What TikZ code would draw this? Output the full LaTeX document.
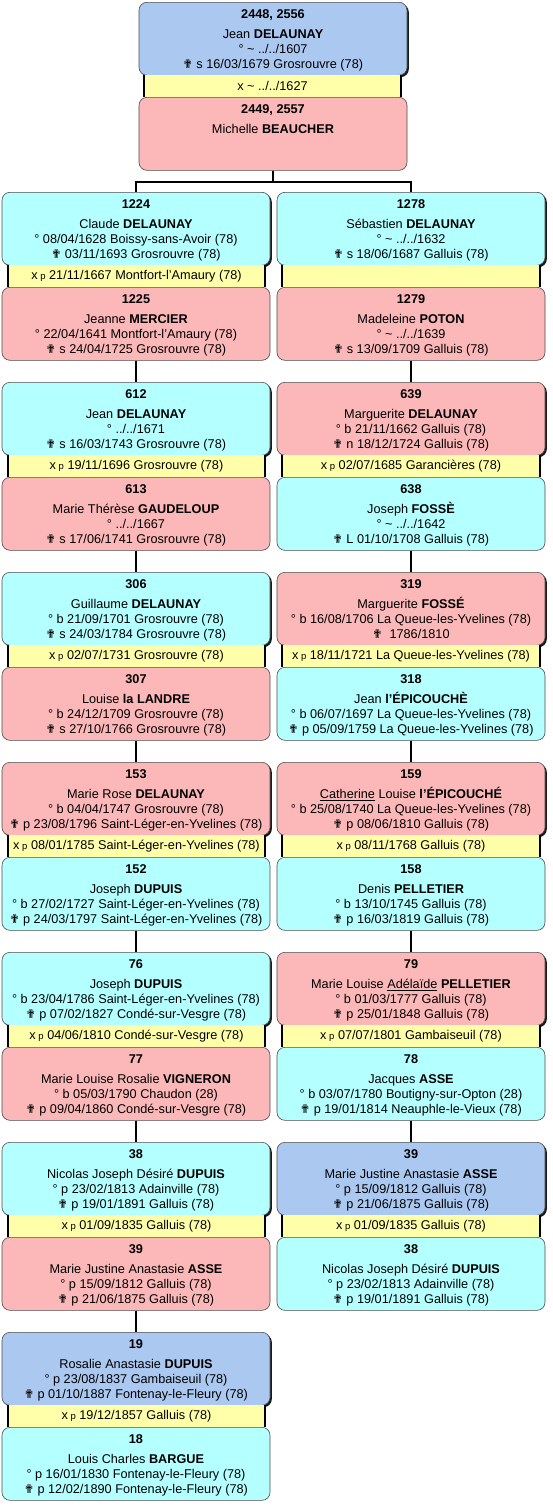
\documentclass[tikz,border=0pt]{standalone}
\usepackage{fontspec}
\setmainfont{Liberation Sans}
\newfontfamily\dvfont{DejaVu Sans}
\usetikzlibrary{shadows}
\definecolor{cblue}{RGB}{170,200,240}
\definecolor{ccyan}{RGB}{180,255,255}
\definecolor{cpink}{RGB}{252,184,184}
\definecolor{cyel}{RGB}{255,255,170}
\newcommand\cx{{\dvfont\fontsize{12}{12}\selectfont ✟}}
\newcommand\mx{x{\fontsize{9.5}{10}\selectfont\ p}}
\newcommand\tl{\textasciitilde}
\tikzset{
  pbox/.style={draw=black!70, line width=0.6pt, rounded corners=8pt,
    minimum width=268pt, minimum height=73pt, inner sep=0pt, anchor=north},
  shad/.style={drop shadow={shadow xshift=1.8pt, shadow yshift=-1.8pt, opacity=1, fill=black!90}},
  noshad/.style={},
  ptext/.style={align=center, inner sep=0pt, anchor=north,
    font=\fontsize{12.7}{15}\selectfont},
  mbarbox/.style={fill=cyel, inner sep=0pt, minimum width=257pt, minimum height=22pt,
    font=\fontsize{12.7}{15}\selectfont},
  conn/.style={line width=2pt, black}
}
\newcommand\pers[6]{%
  \node[pbox,#5,fill=#4] (#1) at (#2,#3) {};
  \node[ptext] (#1t) at ({#2},{#3+7.6}) {#6};
}
\newcommand\mbar[4]{%
  \node[mbarbox] (#1) at ({#2},{#3+11}) {#4};
  \draw[line width=2pt] (#1.north west) -- (#1.south west) (#1.north east) -- (#1.south east);
}
\begin{document}
\begin{tikzpicture}[x=1pt,y=-1pt]
\fill[white] (0,0) rectangle (552,1507);
\useasboundingbox (0,0) rectangle (552,1507);
% top couple
\pers{ta}{273}{2}{cblue}{shad}{\textbf{2448, 2556}\\[5pt] Jean \textbf{DELAUNAY}\\ ° \tl\ ../../1607\\ \cx\ s 16/03/1679 Grosrouvre (78)}
\mbar{tm}{272.5}{75}{x \tl\ ../../1627}
\pers{tb}{273}{97}{cpink}{noshad}{\textbf{2449, 2557}\\[5pt] Michelle \textbf{BEAUCHER}}
% row 1
\pers{la1}{136}{192}{ccyan}{shad}{\textbf{1224}\\[5pt] Claude \textbf{DELAUNAY}\\ ° 08/04/1628 Boissy-sans-Avoir (78)\\ \cx\ 03/11/1693 Grosrouvre (78)}
\mbar{lm1}{136.5}{265}{\mx\ 21/11/1667 Montfort-l'Amaury (78)}
\pers{lb1}{136}{287}{cpink}{noshad}{\textbf{1225}\\[5pt] Jeanne \textbf{MERCIER}\\ ° 22/04/1641 Montfort-l'Amaury (78)\\ \cx\ s 24/04/1725 Grosrouvre (78)}
\pers{ra1}{411}{192}{ccyan}{shad}{\textbf{1278}\\[5pt] Sébastien \textbf{DELAUNAY}\\ ° \tl\ ../../1632\\ \cx\ s 18/06/1687 Galluis (78)}
\mbar{rm1}{411}{265}{}
\pers{rb1}{411}{287}{cpink}{noshad}{\textbf{1279}\\[5pt] Madeleine \textbf{POTON}\\ ° \tl\ ../../1639\\ \cx\ s 13/09/1709 Galluis (78)}
% row 2
\pers{la2}{136}{382}{ccyan}{shad}{\textbf{612}\\[5pt] Jean \textbf{DELAUNAY}\\ ° ../../1671\\ \cx\ s 16/03/1743 Grosrouvre (78)}
\mbar{lm2}{136.5}{455}{\mx\ 19/11/1696 Grosrouvre (78)}
\pers{lb2}{136}{477}{cpink}{noshad}{\textbf{613}\\[5pt] Marie Thérèse \textbf{GAUDELOUP}\\ ° ../../1667\\ \cx\ s 17/06/1741 Grosrouvre (78)}
\pers{ra2}{411}{382}{cpink}{shad}{\textbf{639}\\[5pt] Marguerite \textbf{DELAUNAY}\\ ° b 21/11/1662 Galluis (78)\\ \cx\ n 18/12/1724 Galluis (78)}
\mbar{rm2}{411}{455}{\mx\ 02/07/1685 Garancières (78)}
\pers{rb2}{411}{477}{ccyan}{noshad}{\textbf{638}\\[5pt] Joseph \textbf{FOSSÈ}\\ ° \tl\ ../../1642\\ \cx\ L 01/10/1708 Galluis (78)}
% row 3
\pers{la3}{136}{572}{ccyan}{shad}{\textbf{306}\\[5pt] Guillaume \textbf{DELAUNAY}\\ ° b 21/09/1701 Grosrouvre (78)\\ \cx\ s 24/03/1784 Grosrouvre (78)}
\mbar{lm3}{136.5}{645}{\mx\ 02/07/1731 Grosrouvre (78)}
\pers{lb3}{136}{667}{cpink}{noshad}{\textbf{307}\\[5pt] Louise \textbf{la LANDRE}\\ ° b 24/12/1709 Grosrouvre (78)\\ \cx\ s 27/10/1766 Grosrouvre (78)}
\pers{ra3}{411}{572}{cpink}{shad}{\textbf{319}\\[5pt] Marguerite \textbf{FOSSÉ}\\ ° b 16/08/1706 La Queue-les-Yvelines (78)\\ \cx\ \ 1786/1810}
\mbar{rm3}{411}{645}{\mx\ 18/11/1721 La Queue-les-Yvelines (78)}
\pers{rb3}{411}{667}{ccyan}{noshad}{\textbf{318}\\[5pt] Jean \textbf{l'ÉPICOUCHÈ}\\ ° b 06/07/1697 La Queue-les-Yvelines (78)\\ \cx\ p 05/09/1759 La Queue-les-Yvelines (78)}
% row 4
\pers{la4}{136}{762}{cpink}{shad}{\textbf{153}\\[5pt] Marie Rose \textbf{DELAUNAY}\\ ° b 04/04/1747 Grosrouvre (78)\\ \cx\ p 23/08/1796 Saint-Léger-en-Yvelines (78)}
\mbar{lm4}{136.5}{835}{\mx\ 08/01/1785 Saint-Léger-en-Yvelines (78)}
\pers{lb4}{136}{857}{ccyan}{noshad}{\textbf{152}\\[5pt] Joseph \textbf{DUPUIS}\\ ° b 27/02/1727 Saint-Léger-en-Yvelines (78)\\ \cx\ p 24/03/1797 Saint-Léger-en-Yvelines (78)}
\pers{ra4}{411}{762}{cpink}{shad}{\textbf{159}\\[5pt] \underline{Catherine} Louise \textbf{l'ÉPICOUCHÉ}\\ ° b 25/08/1740 La Queue-les-Yvelines (78)\\ \cx\ p 08/06/1810 Galluis (78)}
\mbar{rm4}{411}{835}{\mx\ 08/11/1768 Galluis (78)}
\pers{rb4}{411}{857}{ccyan}{noshad}{\textbf{158}\\[5pt] Denis \textbf{PELLETIER}\\ ° b 13/10/1745 Galluis (78)\\ \cx\ p 16/03/1819 Galluis (78)}
% row 5
\pers{la5}{136}{952}{ccyan}{shad}{\textbf{76}\\[5pt] Joseph \textbf{DUPUIS}\\ ° b 23/04/1786 Saint-Léger-en-Yvelines (78)\\ \cx\ p 07/02/1827 Condé-sur-Vesgre (78)}
\mbar{lm5}{136.5}{1025}{\mx\ 04/06/1810 Condé-sur-Vesgre (78)}
\pers{lb5}{136}{1047}{cpink}{noshad}{\textbf{77}\\[5pt] Marie Louise Rosalie \textbf{VIGNERON}\\ ° b 05/03/1790 Chaudon (28)\\ \cx\ p 09/04/1860 Condé-sur-Vesgre (78)}
\pers{ra5}{411}{952}{cpink}{shad}{\textbf{79}\\[5pt] Marie Louise \underline{Adélaïde} \textbf{PELLETIER}\\ ° b 01/03/1777 Galluis (78)\\ \cx\ p 25/01/1848 Galluis (78)}
\mbar{rm5}{411}{1025}{\mx\ 07/07/1801 Gambaiseuil (78)}
\pers{rb5}{411}{1047}{ccyan}{noshad}{\textbf{78}\\[5pt] Jacques \textbf{ASSE}\\ ° b 03/07/1780 Boutigny-sur-Opton (28)\\ \cx\ p 19/01/1814 Neauphle-le-Vieux (78)}
% row 6
\pers{la6}{136}{1142}{ccyan}{shad}{\textbf{38}\\[5pt] Nicolas Joseph Désiré \textbf{DUPUIS}\\ ° p 23/02/1813 Adainville (78)\\ \cx\ p 19/01/1891 Galluis (78)}
\mbar{lm6}{136.5}{1215}{\mx\ 01/09/1835 Galluis (78)}
\pers{lb6}{136}{1237}{cpink}{noshad}{\textbf{39}\\[5pt] Marie Justine Anastasie \textbf{ASSE}\\ ° p 15/09/1812 Galluis (78)\\ \cx\ p 21/06/1875 Galluis (78)}
\pers{ra6}{411}{1142}{cblue}{shad}{\textbf{39}\\[5pt] Marie Justine Anastasie \textbf{ASSE}\\ ° p 15/09/1812 Galluis (78)\\ \cx\ p 21/06/1875 Galluis (78)}
\mbar{rm6}{411}{1215}{\mx\ 01/09/1835 Galluis (78)}
\pers{rb6}{411}{1237}{ccyan}{noshad}{\textbf{38}\\[5pt] Nicolas Joseph Désiré \textbf{DUPUIS}\\ ° p 23/02/1813 Adainville (78)\\ \cx\ p 19/01/1891 Galluis (78)}
% row 7
\pers{la7}{136}{1332}{cblue}{shad}{\textbf{19}\\[5pt] Rosalie Anastasie \textbf{DUPUIS}\\ ° p 23/08/1837 Gambaiseuil (78)\\ \cx\ p 01/10/1887 Fontenay-le-Fleury (78)}
\mbar{lm7}{136.5}{1405}{\mx\ 19/12/1857 Galluis (78)}
\pers{lb7}{136}{1427}{ccyan}{noshad}{\textbf{18}\\[5pt] Louis Charles \textbf{BARGUE}\\ ° p 16/01/1830 Fontenay-le-Fleury (78)\\ \cx\ p 12/02/1890 Fontenay-le-Fleury (78)}
% connectors
\draw[conn] (tb.south) -- ++(0,11) -| (la1.north);
\draw[conn] (tb.south) -- ++(0,11) -| (ra1.north);
\foreach \a/\b in {1/2,2/3,3/4,4/5,5/6,6/7}{\draw[conn] (lb\a.south) -- (la\b.north);}
\foreach \a/\b in {1/2,2/3,3/4,4/5,5/6}{\draw[conn] (rb\a.south) -- (ra\b.north);}
\end{tikzpicture}
\end{document}
